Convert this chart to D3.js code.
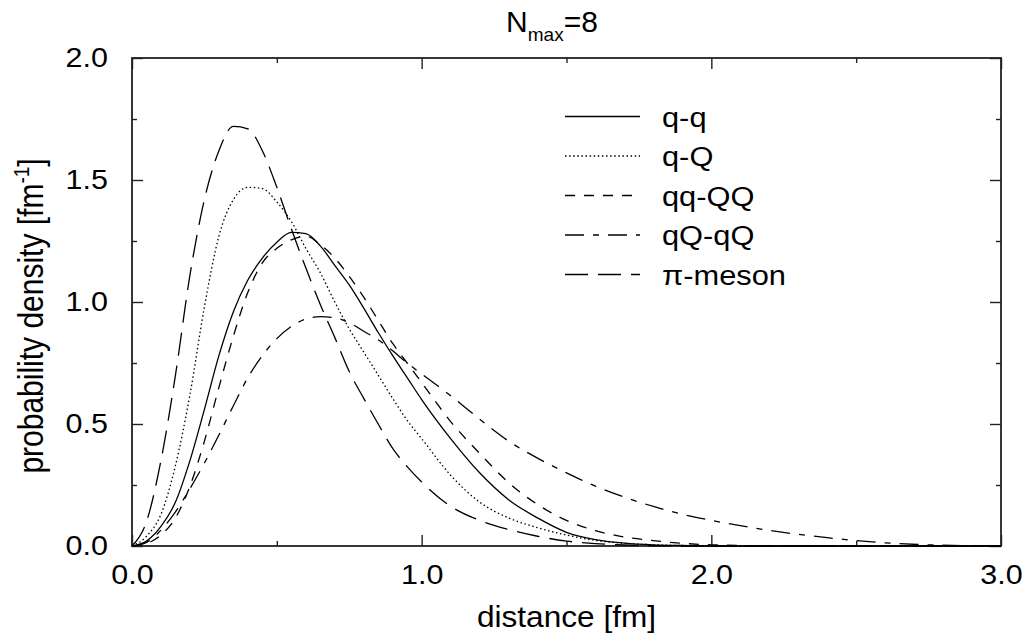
<!DOCTYPE html>
<html>
<head>
<meta charset="utf-8">
<script src="https://cdn.jsdelivr.net/npm/d3@7"></script>
<style>
  html, body { margin: 0; padding: 0; background: #fff; }
  svg { display: block; }
  text { font-family: "Liberation Sans", Arial, Helvetica, sans-serif; fill: #000; }
</style>
</head>
<body>
<svg id="chart" width="1029" height="638"></svg>
<script>
// ---- data ----
const distance = [0, 0.05, 0.1, 0.15, 0.2, 0.25, 0.3, 0.35, 0.4, 0.45, 0.5, 0.55, 0.6, 0.65, 0.7, 0.75, 0.8, 0.85, 0.9, 0.95, 1.0,
                  1.1, 1.2, 1.3, 1.4, 1.5, 1.6, 1.7, 1.8, 1.9, 2.0,
                  2.2, 2.4, 2.6, 2.8, 3.0];
const qq = [0, 0.02, 0.08, 0.18, 0.35, 0.56, 0.78, 0.96, 1.09, 1.18, 1.245, 1.285, 1.28, 1.23, 1.15, 1.07, 0.975, 0.875, 0.78, 0.69, 0.60,
            0.44, 0.30, 0.19, 0.115, 0.056, 0.026, 0.012, 0.005, 0.002, 0,
            0, 0, 0, 0, 0];
const qQ = [0, 0.04, 0.13, 0.33, 0.62, 0.98, 1.27, 1.42, 1.47, 1.465, 1.41, 1.33, 1.22, 1.12, 1.00, 0.89, 0.795, 0.70, 0.605, 0.515, 0.44,
            0.29, 0.18, 0.115, 0.075, 0.045, 0.023, 0.011, 0.005, 0.002, 0.001,
            0, 0, 0, 0, 0];
const qqQQ = [0, 0.01, 0.045, 0.115, 0.245, 0.43, 0.65, 0.86, 1.04, 1.16, 1.22, 1.255, 1.27, 1.235, 1.18, 1.105, 1.02, 0.925, 0.83, 0.75, 0.67,
              0.51, 0.38, 0.26, 0.17, 0.105, 0.063, 0.037, 0.022, 0.011, 0.005,
              0.001, 0, 0, 0, 0];
const qQqQ = [0, 0.015, 0.065, 0.14, 0.235, 0.34, 0.455, 0.575, 0.69, 0.78, 0.85, 0.90, 0.93, 0.94, 0.935, 0.915, 0.88, 0.845, 0.80, 0.75, 0.705,
              0.616, 0.52, 0.43, 0.36, 0.30, 0.245, 0.20, 0.162, 0.13, 0.105,
              0.064, 0.034, 0.013, 0.003, 0];
const pion = [0, 0.10, 0.35, 0.70, 1.11, 1.42, 1.62, 1.72, 1.71, 1.62, 1.47, 1.30, 1.14, 0.99, 0.855, 0.715, 0.605, 0.50, 0.40, 0.325, 0.262,
              0.163, 0.105, 0.068, 0.040, 0.020, 0.010, 0.004, 0.001, 0, 0,
              0, 0, 0, 0, 0];
const seriesNames = ["q-q", "q-Q", "qq-QQ", "qQ-qQ", "\u03C0-meson"];
const seriesValues = [qq, qQ, qqQQ, qQqQ, pion];
const seriesDash = [null, "1.5,2.6", "10,9", "19,9,6,9", "23,10"];
const xTicks = [0, 1, 2, 3];
const xTickLabels = ["0.0", "1.0", "2.0", "3.0"];
const xMinor = [0.5, 1.5, 2.5];
const yTicks = [0, 0.5, 1.0, 1.5, 2.0];
const yTickLabels = ["0.0", "0.5", "1.0", "1.5", "2.0"];
const yMinor = [0.25, 0.75, 1.25, 1.75];

// ---- layout ----
const L = 132, R = 1001, T = 58, B = 546;
const svg = d3.select("#chart");
const x = d3.scaleLinear().domain([0, 3]).range([L, R]);
const y = d3.scaleLinear().domain([0, 2]).range([B, T]);

const axisColor = "#222";
const fontTick = 28;
const stretch = 1.09;

function styleAxis(g) {
  g.select(".domain").remove();
  g.selectAll(".tick line").attr("stroke", axisColor).attr("stroke-width", 1.4);
  g.selectAll(".tick text").attr("font-size", fontTick).attr("fill", "#000")
    .attr("font-family", "Liberation Sans, Arial, Helvetica, sans-serif");
}

// major/minor ticks, bottom
svg.append("g").attr("transform", `translate(0,${B})`)
  .call(d3.axisBottom(x).tickValues(xTicks).tickFormat((d, i) => xTickLabels[i]).tickSize(-11).tickPadding(18))
  .call(styleAxis)
  .call(g => g.selectAll(".tick text").attr("transform", `scale(${stretch},1)`));
svg.append("g").attr("transform", `translate(0,${B})`)
  .call(d3.axisBottom(x).tickValues(xMinor).tickFormat("").tickSize(-5))
  .call(styleAxis);
// top
svg.append("g").attr("transform", `translate(0,${T})`)
  .call(d3.axisTop(x).tickValues(xTicks).tickFormat("").tickSize(-11))
  .call(styleAxis);
svg.append("g").attr("transform", `translate(0,${T})`)
  .call(d3.axisTop(x).tickValues(xMinor).tickFormat("").tickSize(-5))
  .call(styleAxis);
// left
svg.append("g").attr("transform", `translate(${L},0)`)
  .call(d3.axisLeft(y).tickValues(yTicks).tickFormat((d, i) => yTickLabels[i]).tickSize(-11).tickPadding(0))
  .call(styleAxis)
  .call(g => g.selectAll(".tick text").attr("x", 0).attr("transform", `translate(-24,0) scale(${stretch},1)`));
svg.append("g").attr("transform", `translate(${L},0)`)
  .call(d3.axisLeft(y).tickValues(yMinor).tickFormat("").tickSize(-5))
  .call(styleAxis);
// right
svg.append("g").attr("transform", `translate(${R},0)`)
  .call(d3.axisRight(y).tickValues(yTicks).tickFormat("").tickSize(-11))
  .call(styleAxis);
svg.append("g").attr("transform", `translate(${R},0)`)
  .call(d3.axisRight(y).tickValues(yMinor).tickFormat("").tickSize(-5))
  .call(styleAxis);

// frame
svg.append("rect").attr("x", L).attr("y", T).attr("width", R - L).attr("height", B - T)
  .attr("fill", "none").attr("stroke", axisColor).attr("stroke-width", 1.8);

// curves
const line = d3.line()
  .x((d, i) => x(distance[i]))
  .y(d => y(d))
  .curve(d3.curveMonotoneX);

seriesValues.forEach((vals, k) => {
  svg.append("path")
    .datum(vals)
    .attr("d", line)
    .attr("fill", "none")
    .attr("stroke", "#000")
    .attr("stroke-width", 1.3)
    .attr("stroke-dasharray", seriesDash[k]);
});

// legend
const legX0 = 565, legX1 = 640, legTextX = 662, legY0 = 116.5, legDy = 39.5;
seriesNames.forEach((name, k) => {
  const yy = legY0 + k * legDy;
  svg.append("line").attr("x1", legX0).attr("x2", legX1).attr("y1", yy).attr("y2", yy)
    .attr("stroke", "#000").attr("stroke-width", 1.3).attr("stroke-dasharray", seriesDash[k]);
  svg.append("text").attr("transform", `translate(${legTextX},${yy}) scale(1.1,1)`).attr("dy", "0.36em")
    .attr("font-size", 28).text(name);
});

// title
const title = svg.append("text").attr("x", 552).attr("y", 32).attr("text-anchor", "middle").attr("font-size", 30);
title.append("tspan").text("N");
title.append("tspan").attr("font-size", 19).attr("dy", 9).text("max");
title.append("tspan").attr("dy", -9).text("=8");

// axis titles
svg.append("text").attr("transform", `translate(${(L + R) / 2},627) scale(1.09,1)`).attr("text-anchor", "middle")
  .attr("font-size", 29).text("distance [fm]");

const yl = svg.append("text").attr("transform", "translate(43,316) scale(1.18,1) rotate(-90)")
  .attr("text-anchor", "middle").attr("font-size", 30);
yl.append("tspan").text("probability density [fm");
yl.append("tspan").attr("font-size", 19).attr("dy", -12).text("-1");
yl.append("tspan").attr("dy", 12).text("]");
</script>
</body>
</html>
